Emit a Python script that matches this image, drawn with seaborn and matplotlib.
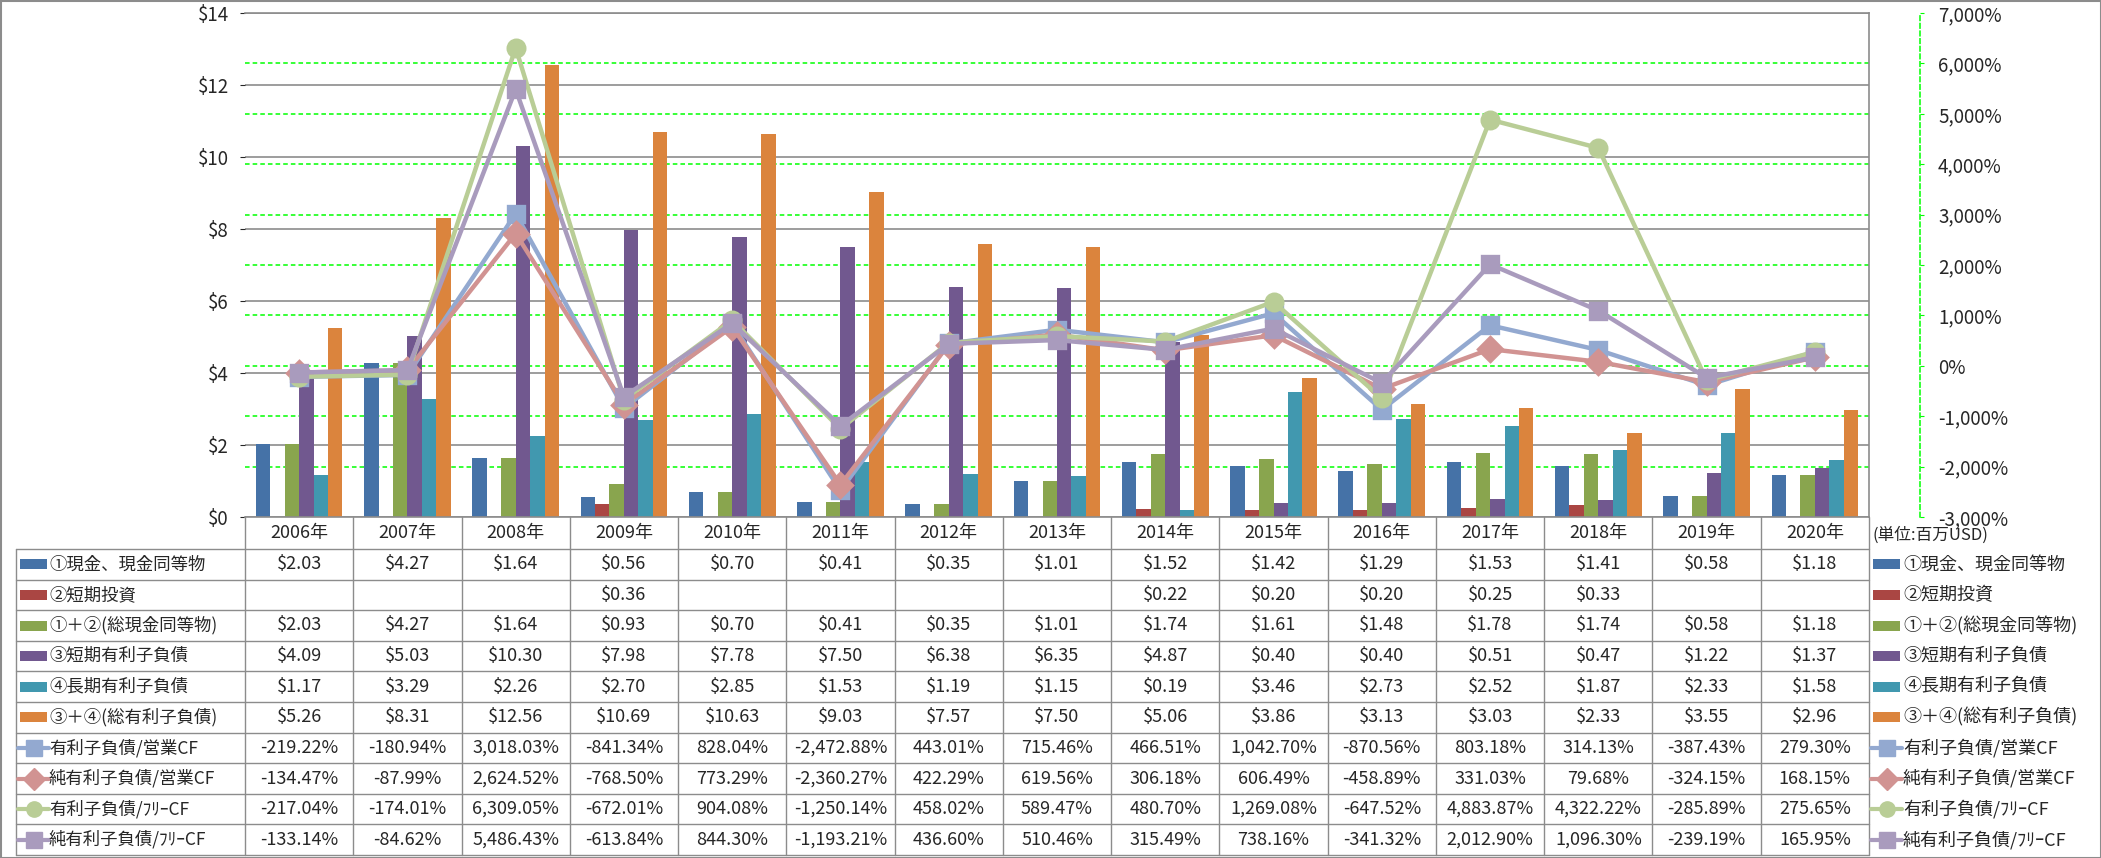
import numpy as np
import pandas as pd
import matplotlib
matplotlib.use("Agg")
import matplotlib.pyplot as plt
import seaborn as sns
from matplotlib.lines import Line2D
from matplotlib.patches import Rectangle
from matplotlib.transforms import blended_transform_factory

years = ["2006年", "2007年", "2008年", "2009年", "2010年", "2011年", "2012年", "2013年",
         "2014年", "2015年", "2016年", "2017年", "2018年", "2019年", "2020年"]

bar_names = ["①現金、現金同等物", "②短期投資", "①＋②(総現金同等物)",
             "③短期有利子負債", "④長期有利子負債", "③＋④(総有利子負債)"]
line_names = ["有利子負債/営業CF", "純有利子負債/営業CF", "有利子負債/ﾌﾘｰCF", "純有利子負債/ﾌﾘｰCF"]

cash = [2.03, 4.27, 1.64, 0.56, 0.70, 0.41, 0.35, 1.01, 1.52, 1.42, 1.29, 1.53, 1.41, 0.58, 1.18]
st_invest = [np.nan, np.nan, np.nan, 0.36, np.nan, np.nan, np.nan, np.nan, 0.22, 0.20, 0.20, 0.25, 0.33, np.nan, np.nan]
total_cash = [2.03, 4.27, 1.64, 0.93, 0.70, 0.41, 0.35, 1.01, 1.74, 1.61, 1.48, 1.78, 1.74, 0.58, 1.18]
st_debt = [4.09, 5.03, 10.30, 7.98, 7.78, 7.50, 6.38, 6.35, 4.87, 0.40, 0.40, 0.51, 0.47, 1.22, 1.37]
lt_debt = [1.17, 3.29, 2.26, 2.70, 2.85, 1.53, 1.19, 1.15, 0.19, 3.46, 2.73, 2.52, 1.87, 2.33, 1.58]
total_debt = [5.26, 8.31, 12.56, 10.69, 10.63, 9.03, 7.57, 7.50, 5.06, 3.86, 3.13, 3.03, 2.33, 3.55, 2.96]

debt_ocf = [-219.22, -180.94, 3018.03, -841.34, 828.04, -2472.88, 443.01, 715.46, 466.51, 1042.70, -870.56, 803.18, 314.13, -387.43, 279.30]
net_debt_ocf = [-134.47, -87.99, 2624.52, -768.50, 773.29, -2360.27, 422.29, 619.56, 306.18, 606.49, -458.89, 331.03, 79.68, -324.15, 168.15]
debt_fcf = [-217.04, -174.01, 6309.05, -672.01, 904.08, -1250.14, 458.02, 589.47, 480.70, 1269.08, -647.52, 4883.87, 4322.22, -285.89, 275.65]
net_debt_fcf = [-133.14, -84.62, 5486.43, -613.84, 844.30, -1193.21, 436.60, 510.46, 315.49, 738.16, -341.32, 2012.90, 1096.30, -239.19, 165.95]

bar_series = [cash, st_invest, total_cash, st_debt, lt_debt, total_debt]
line_series = [debt_ocf, net_debt_ocf, debt_fcf, net_debt_fcf]

bar_colors = ["#4572A7", "#AA4643", "#89A54E", "#71588F", "#4198AF", "#DB843D"]
line_colors = ["#93A9D0", "#D19392", "#B9CD96", "#A99BBD"]
line_markers = ["s", "D", "o", "s"]

bar_df = pd.DataFrame({"year": np.tile(years, len(bar_names)),
                       "series": np.repeat(bar_names, len(years)),
                       "value": np.concatenate(bar_series)})
line_df = pd.DataFrame({"year": np.tile(years, len(line_names)),
                        "series": np.repeat(line_names, len(years)),
                        "value": np.concatenate(line_series)})

sns.set_style("white")
plt.rcParams["font.family"] = ["Noto Sans CJK JP", "DejaVu Sans"]

W, H = 2101, 858
def fx(x):
    return x / W
def fy(y):
    return 1 - y / H

grey = "#8C8C8C"
green = "#00FF00"
p_lo, p_hi = 0, 14
s_lo, s_hi = -3000, 7000

fig = plt.figure(figsize=(W / 100, H / 100), dpi=100)
ax = fig.add_axes([fx(245), fy(517), fx(1869) - fx(245), fy(13) - fy(517)])

sns.barplot(data=bar_df, x="year", y="value", hue="series", hue_order=bar_names,
            palette=bar_colors, saturation=1, width=0.8, linewidth=0,
            errorbar=None, legend=False, ax=ax)
ax.set_ylim(p_lo, p_hi)
ax.set_xlim(-0.5, 14.5)
ax.set_yticks(range(0, 15, 2))
ax.set_yticklabels([f"${v}" for v in range(0, 15, 2)])
ax.yaxis.grid(True, color=grey, lw=1.2)
ax.set_axisbelow(True)
# secondary-axis gridlines drawn behind the bars
for v in range(s_lo + 1000, s_hi, 1000):
    ax.axhline((v - s_lo) / (s_hi - s_lo) * p_hi, color=green, lw=1.1,
               ls=(0, (3, 2)), zorder=0.6)
ax.tick_params(axis="y", left=False, right=False, labelleft=False, labelright=True,
               pad=8, labelsize=13.5)
ax.tick_params(axis="x", length=0, labelbottom=False)
ax.set_xlabel("")
ax.set_ylabel("")
ax.spines["left"].set_visible(False)
for s in ["right", "top", "bottom"]:
    ax.spines[s].set_color(grey)
    ax.spines[s].set_linewidth(1.2)

ax2 = ax.twinx()
sns.pointplot(data=line_df, x="year", y="value", hue="series", hue_order=line_names,
              palette=line_colors, markers=line_markers, linestyles="-",
              errorbar=None, legend=False, ax=ax2, markersize=12, linewidth=3.2)
ax2.set_ylim(s_lo, s_hi)
ax2.set_xlim(-0.5, 14.5)
ticks2 = list(range(s_lo, s_hi + 1, 1000))
ax2.set_yticks(ticks2)
ax2.set_yticklabels([f"{v:,}%" for v in ticks2])
for lab, v in zip(ax2.get_yticklabels(), ticks2):
    lab.set_color("red" if v < 0 else "black")
ax2.tick_params(axis="y", length=3, color=green, pad=10, labelsize=13.5)
ax2.tick_params(axis="x", length=0, labelbottom=False)
ax2.set_xlabel("")
ax2.set_ylabel("")
ax2.grid(False)
for s in ["left", "top", "bottom"]:
    ax2.spines[s].set_visible(False)
ax2.spines["right"].set_position(("outward", 36.7))
ax2.spines["right"].set_color(green)
ax2.spines["right"].set_linestyle((0, (3, 2)))
ax2.spines["right"].set_linewidth(1.1)

# ---- data table under the chart ----
tr = blended_transform_factory(ax.transData, fig.transFigure)
top, rh = 549, 30.6
n_rows = len(bar_names) + len(line_names)
bottom = top + rh * n_rows
x_left, x_plot, x_right = 16, 245, 1869
cw = (x_right - x_plot) / len(years)

for k in range(n_rows + 1):
    y = top + rh * k
    fig.add_artist(Line2D([fx(x_left), fx(x_right)], [fy(y), fy(y)], color=grey, lw=1))
fig.add_artist(Line2D([fx(x_left), fx(x_left)], [fy(top), fy(bottom)], color=grey, lw=1))
for j in range(len(years) + 1):
    x = x_plot + cw * j
    fig.add_artist(Line2D([fx(x), fx(x)], [fy(517), fy(bottom)], color=grey, lw=1))

for i, yr in enumerate(years):
    fig.text(i, fy(533), yr, transform=tr, ha="center", va="center", fontsize=13)

row_labels = bar_names + line_names
row_values = bar_series + line_series
for k in range(n_rows):
    yc = fy(top + rh * (k + 0.5))
    vals = row_values[k]
    for i, v in enumerate(vals):
        if np.isnan(v):
            continue
        txt = f"${v:.2f}" if k < len(bar_names) else f"{v:,.2f}%"
        fig.text(i, yc, txt, transform=tr, ha="center", va="center", fontsize=13)
    # left label column and right legend column
    for x0, x1, xt, fs in [(20, 47, 49, 12.5), (1873, 1900, 1903, 13)]:
        if k < len(bar_names):
            fig.add_artist(Rectangle((fx(x0), yc - 5 / H), fx(x1) - fx(x0), 10 / H,
                                     color=bar_colors[k], lw=0))
        else:
            c = line_colors[k - len(bar_names)]
            m = line_markers[k - len(bar_names)]
            fig.add_artist(Line2D([fx(x0 - 2), fx(x1 + 2)], [yc, yc], color=c, lw=3))
            fig.add_artist(Line2D([fx((x0 + x1) / 2)], [yc], color=c, marker=m,
                                  markersize=11, lw=0))
        fig.text(fx(xt), yc, row_labels[k], ha="left", va="center", fontsize=fs)

fig.text(fx(1872), fy(535), "(単位:百万USD)", ha="left", va="center", fontsize=12)

fig.add_artist(Rectangle((0.5 / W, 0.5 / H), 1 - 1 / W, 1 - 1 / H, fill=False,
                         edgecolor=grey, lw=1.5))

fig.savefig("out.png", dpi=100)
